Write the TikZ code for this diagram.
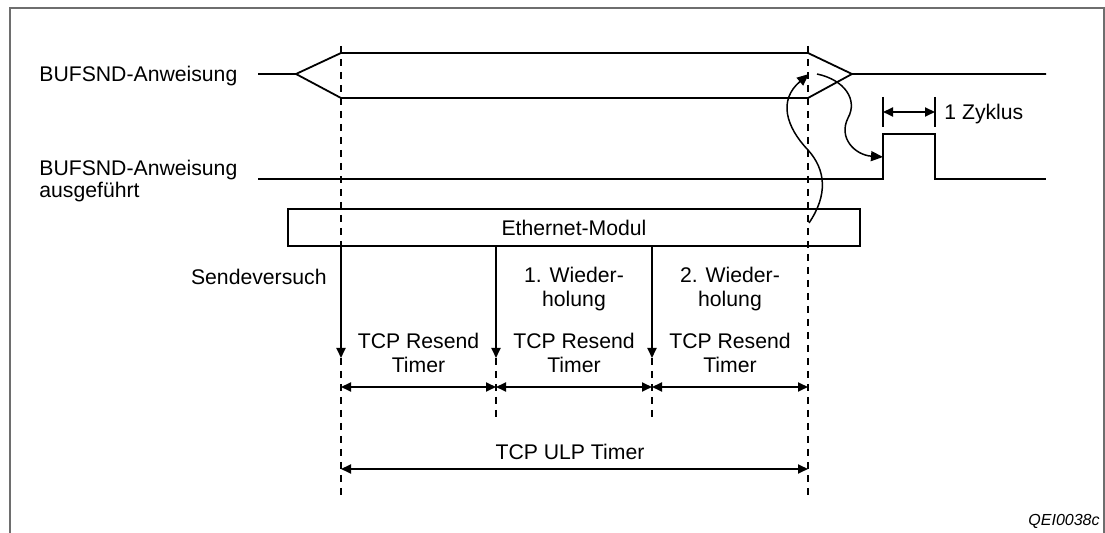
\documentclass[tikz,border=0pt]{standalone}
\usepackage{fontspec}
\setmainfont{Liberation Sans}
\usetikzlibrary{arrows.meta,positioning,calc}
\definecolor{framegray}{RGB}{110,110,110}

\tikzset{
  sig/.style={line width=0.9pt},
  tline/.style={line width=1.1pt, dash pattern=on 3.5pt off 3pt},
  tarrow/.style={line width=0.9pt, -{Triangle[length=5pt,width=4.5pt]}},
  span/.style={line width=0.9pt, {Triangle[length=5pt,width=4.5pt]}-{Triangle[length=5pt,width=4.5pt]}},
  wavearrow/.style={line width=0.75pt, -{Triangle[length=6pt,width=5pt]}},
}

\begin{document}
\begin{tikzpicture}[x=0.5pt, y=-0.5pt,
    every node/.style={inner sep=0pt, font=\fontsize{10.6}{12.2}\selectfont}]
  \useasboundingbox (0,0) rectangle (1105,533);
  % frame, open at the bottom
  \draw[framegray, line width=0.75pt] (10,533) -- (10,8) -- (1104,8) -- (1104,533);

  % time marks
  \coordinate (t0) at (341,46);
  \coordinate (t1) at (496,46);
  \coordinate (t2) at (652,46);
  \coordinate (t3) at (808,46);
  \coordinate (b0) at (341,498);
  \coordinate (b3) at (808,498);
  \draw[tline] (t0) -- (b0);
  \draw[tline] (t3) -- (b3);

  % signal labels
  \node[anchor=base west] (instr) at (39,81.5) {BUFSND-Anweisung};
  \node[anchor=west, align=left, font=\fontsize{10.6}{10.8}\selectfont] (done) at (39,181)
    {BUFSND-Anweisung\\ausgeführt};

  % instruction signal
  \draw[sig] (258,74) -- (296,74) -- (341,53) -- (808,53) -- (852,74) -- (1046,74);
  \draw[sig] (296,74) -- (341,98) -- (808,98) -- (852,74);

  % executed pulse
  \draw[sig] (258,179) -- (883,179) -- (883,134) -- (935,134) -- (935,179) -- (1046,179);
  \coordinate (z0) at (883,112);
  \coordinate (z1) at (935,112);
  \draw[sig] (883,97) -- (883,127);
  \draw[sig] (935,97) -- (935,127);
  \draw[span] (z0) -- (z1);
  \node[anchor=base west] (cyc) at (944,119.6) {1 Zyklus};

  % module
  \node[draw, sig, minimum width=286pt, minimum height=18.5pt] (eth) at (574,227.5)
    {Ethernet-Modul};

  % send and repeats
  \coordinate (r0) at (341,358);
  \coordinate (r1) at (496,358);
  \coordinate (r2) at (652,358);
  \coordinate (e1) at (496,420);
  \coordinate (e2) at (652,420);
  \draw[tarrow] (eth.south -| t0) -- (r0);
  \draw[tarrow] (eth.south -| t1) -- (r1);
  \draw[tarrow] (eth.south -| t2) -- (r2);
  \draw[tline] (r1) -- (e1);
  \draw[tline] (r2) -- (e2);
  \node[anchor=east] (try) at (327,277) {Sendeversuch};
  \node[align=center] (rep1) at (574,289) {1. Wieder-\\holung};
  \node[align=center] (rep2) at (730,289) {2. Wieder-\\holung};

  % resend timers
  \node[align=center] (res0) at (418.5,353) {TCP Resend\\Timer};
  \node[align=center] (res1) at (574,353) {TCP Resend\\Timer};
  \node[align=center] (res2) at (730,353) {TCP Resend\\Timer};
  \coordinate (dres) at (0,387);
  \draw[span] (t0 |- dres) -- (t1 |- dres);
  \draw[span] (t1 |- dres) -- (t2 |- dres);
  \draw[span] (t2 |- dres) -- (t3 |- dres);

  % ULP timer
  \node (ulp) at (570,452) {TCP ULP Timer};
  \coordinate (u0) at (341,469);
  \coordinate (u3) at (808,469);
  \draw[span] (u0) -- (u3);

  % curved arrows
  \coordinate (ethout) at (809,223);
  \coordinate (instrin) at (809,74);
  \coordinate (instrout) at (817,74);
  \coordinate (pulsein) at (883,157);
  \draw[wavearrow] (ethout) .. controls (828,195) and (826,170) .. (808,150)
    .. controls (786,127) and (778,100) .. (instrin);
  \draw[wavearrow] (instrout) .. controls (845,80) and (858,100) .. (848,118)
    .. controls (838,138) and (855,155) .. (pulsein);

  \node[anchor=base east, font=\fontsize{8}{9.6}\selectfont\itshape] (code) at (1100,525.7)
    {QEI0038c};
\end{tikzpicture}
\end{document}
